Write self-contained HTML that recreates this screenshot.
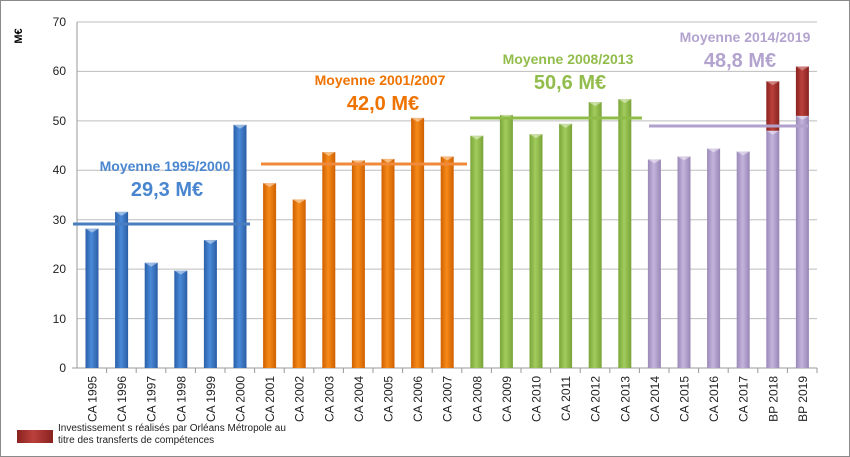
<!DOCTYPE html>
<html><head><meta charset="utf-8"><style>
html,body{margin:0;padding:0;background:#fff}
svg{display:block;font-family:"Liberation Sans",sans-serif}
</style></head><body>
<svg width="850" height="457" viewBox="0 0 850 457" xmlns="http://www.w3.org/2000/svg">
<defs>
<linearGradient id="gb" x1="0" x2="1"><stop offset="0" stop-color="#2a5fa8"/><stop offset="0.45" stop-color="#4a8ad8"/><stop offset="1" stop-color="#2b5ea4"/></linearGradient>
<linearGradient id="go" x1="0" x2="1"><stop offset="0" stop-color="#d06000"/><stop offset="0.45" stop-color="#f58a1a"/><stop offset="1" stop-color="#cf6000"/></linearGradient>
<linearGradient id="gg" x1="0" x2="1"><stop offset="0" stop-color="#7aa53a"/><stop offset="0.45" stop-color="#a2cc5c"/><stop offset="1" stop-color="#79a338"/></linearGradient>
<linearGradient id="gp" x1="0" x2="1"><stop offset="0" stop-color="#9a88b8"/><stop offset="0.45" stop-color="#c3b4dc"/><stop offset="1" stop-color="#9886b6"/></linearGradient>
<linearGradient id="gr" x1="0" x2="1"><stop offset="0" stop-color="#8a2220"/><stop offset="0.45" stop-color="#bb403c"/><stop offset="1" stop-color="#88221f"/></linearGradient>
</defs>
<rect x="0.5" y="0.5" width="849" height="456" fill="#fff" stroke="#8a8a8a"/>
<g stroke="#bdbdbd" stroke-width="1">
<line x1="77" y1="22" x2="817" y2="22"/><line x1="77" y1="71.4" x2="817" y2="71.4"/>
<line x1="77" y1="120.9" x2="817" y2="120.9"/><line x1="77" y1="170.3" x2="817" y2="170.3"/>
<line x1="77" y1="219.7" x2="817" y2="219.7"/><line x1="77" y1="269.1" x2="817" y2="269.1"/>
<line x1="77" y1="318.6" x2="817" y2="318.6"/>
</g>
<line x1="77" y1="22" x2="77" y2="368" stroke="#999"/>
<line x1="72" y1="368" x2="817" y2="368" stroke="#999"/>
<g font-size="12" fill="#222" text-anchor="end">
<text x="66" y="26">70</text><text x="66" y="75">60</text><text x="66" y="125">50</text>
<text x="66" y="174">40</text><text x="66" y="224">30</text><text x="66" y="273">20</text>
<text x="66" y="323">10</text><text x="66" y="372">0</text>
</g>
<text transform="translate(22,36) rotate(-90)" font-size="11" font-weight="bold" text-anchor="middle">M€</text>
<g id="bars"></g>
<g id="labels" font-size="12" fill="#222"></g>
<g id="ticks" stroke="#999"></g>
<g stroke-width="3">
<line x1="73" y1="224" x2="250" y2="224" stroke="#4a7cc0"/>
<line x1="261" y1="164" x2="467" y2="164" stroke="#f08a3a"/>
<line x1="470" y1="118" x2="642" y2="118" stroke="#8fbc48"/>
<line x1="649" y1="126" x2="808" y2="126" stroke="#b0a2cc"/>
</g>
<g font-weight="bold" text-anchor="middle">
<text x="165" y="171" font-size="14" fill="#4a86d0">Moyenne 1995/2000</text>
<text x="167" y="196" font-size="20" fill="#4a86d0">29,3 M€</text>
<text x="380" y="85" font-size="14" fill="#ee7300">Moyenne 2001/2007</text>
<text x="383" y="110" font-size="20" fill="#ee7300">42,0 M€</text>
<text x="568" y="64" font-size="14" fill="#92bd4c">Moyenne 2008/2013</text>
<text x="570" y="89" font-size="20" fill="#92bd4c">50,6 M€</text>
<text x="745" y="42" font-size="14" fill="#b3a3cf">Moyenne 2014/2019</text>
<text x="740" y="67" font-size="20" fill="#b3a3cf">48,8 M€</text>
</g>
<rect x="17" y="430" width="36" height="13" fill="url(#gr)"/>
<text x="58" y="431" font-size="10" fill="#222">Investissement s réalisés par Orléans Métropole  au</text>
<text x="58" y="443" font-size="10" fill="#222">titre des transferts de compétences</text>
<script>
(function(){
var v=[28.2,31.6,21.3,19.7,25.9,49.2,37.4,34.1,43.7,42.0,42.3,50.6,42.8,47.0,51.2,47.3,49.4,53.8,54.4,42.2,42.8,44.4,43.8,48,51];
var lab=["CA 1995","CA 1996","CA 1997","CA 1998","CA 1999","CA 2000","CA 2001","CA 2002","CA 2003","CA 2004","CA 2005","CA 2006","CA 2007","CA 2008","CA 2009","CA 2010","CA 2011","CA 2012","CA 2013","CA 2014","CA 2015","CA 2016","CA 2017","BP 2018","BP 2019"];
var red={23:[48,58],24:[51,61]};
var ns="http://www.w3.org/2000/svg",b=document.getElementById("bars"),L=document.getElementById("labels"),T=document.getElementById("ticks");
function yy(x){return 368-x*4.943;}
function el(p,t,a){var e=document.createElementNS(ns,t);for(var k in a)e.setAttribute(k,a[k]);p.appendChild(e);return e;}
for(var i=0;i<25;i++){
 var c=92+i*29.6,g=i<6?"gb":i<13?"go":i<19?"gg":"gp";
 var tp=yy(v[i]);
 el(b,"rect",{x:c-6.5,y:tp,width:13,height:368-tp,fill:"url(#"+g+")"});
 el(b,"path",{d:"M"+(c-6.5)+" "+tp+"h13l-6.5 4z",fill:"#fff","fill-opacity":"0.45"});
 if(red[i]){var r=red[i];el(b,"rect",{x:c-6.5,y:yy(r[1]),width:13,height:yy(r[0])-yy(r[1]),fill:"url(#gr)"});
  el(b,"path",{d:"M"+(c-6.5)+" "+yy(r[1])+"h13l-6.5 4z",fill:"#fff","fill-opacity":"0.35"});}
 var t=el(L,"text",{transform:"translate("+(c+4.5)+",376) rotate(-90)","text-anchor":"end"});t.textContent=lab[i];
}
for(var i=0;i<25;i++){var x=77+i*29.6+29.6;el(T,"line",{x1:x,y1:368,x2:x,y2:373});}
})();
</script>
</svg>
</body></html>
